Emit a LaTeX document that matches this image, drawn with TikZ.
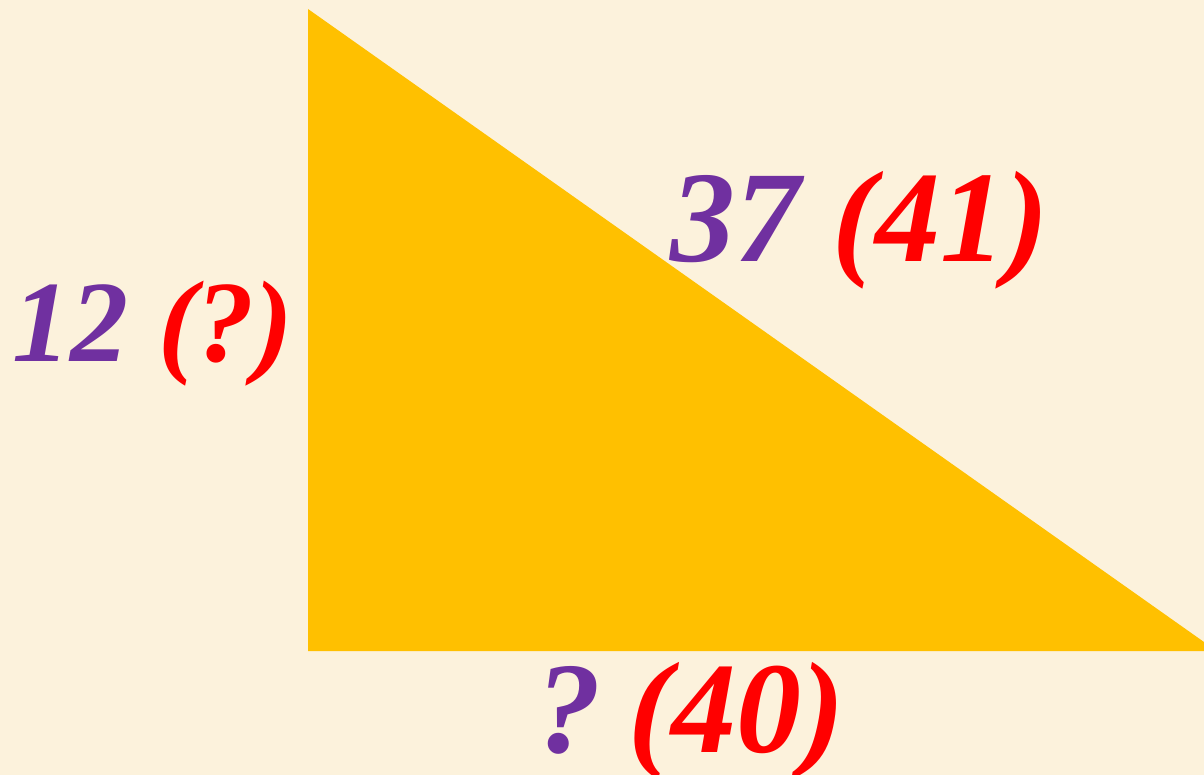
\documentclass[tikz,border=0pt]{standalone}
\usepackage{fontspec}
\setmainfont{Liberation Serif}
\definecolor{bgc}{HTML}{FCF2DC}
\definecolor{tri}{HTML}{FFC000}
\definecolor{purp}{HTML}{7030A0}
\definecolor{redc}{HTML}{FF0000}
\tikzset{
  lbl/.style={anchor=base west, inner sep=0pt, font=\fontsize{#1}{#1}\selectfont\bfseries\itshape},
  pl/.style={lbl=#1, text=purp},
  rl/.style={lbl=#1, text=redc}
}
\begin{document}
\begin{tikzpicture}[x=1pt,y=-1pt]
\useasboundingbox (0,0) rectangle (1204,775);
\fill[bgc] (0,0) rectangle (1204,775);
\fill[tri] (308,9) -- (308,651) -- (1204,651) -- (1204,642) -- cycle;
\node[pl=116] (a1) at (12,362) {12};
\node[rl=116] (a2) at (158,362) {(?)};
\node[pl=130] (b1) at (670,262) {37};
\node[rl=130] (b2) at (832,262) {(41)};
\node[pl=130] (c1) at (536,752) {?};
\node[rl=130] (c2) at (628,752) {(40)};
\end{tikzpicture}
\end{document}
